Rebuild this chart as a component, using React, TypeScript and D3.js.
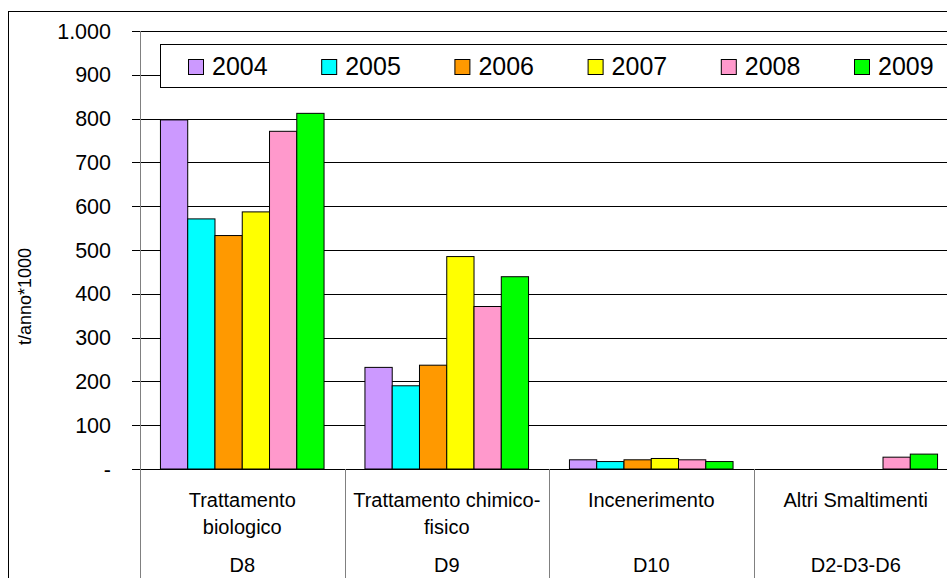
import React from "react";
import * as d3 from "d3";

const categories = ["D8", "D9", "D10", "D2-D3-D6"];
const categoryNames = [
  ["Trattamento", "biologico"],
  ["Trattamento chimico-", "fisico"],
  ["Incenerimento"],
  ["Altri Smaltimenti"],
];
const years = ["2004", "2005", "2006", "2007", "2008", "2009"];
const colors = ["#CC99FF", "#00FFFF", "#FF9900", "#FFFF00", "#FF99CC", "#00FF00"];
// values per year, in category order
const v2004 = [797, 232, 21, 0];
const v2005 = [571, 190, 17, 0];
const v2006 = [533, 237, 21, 0];
const v2007 = [587, 485, 24, 0];
const v2008 = [771, 371, 21, 27];
const v2009 = [812, 439, 17, 34];
const series = [v2004, v2005, v2006, v2007, v2008, v2009];
const yTicks = [0, 100, 200, 300, 400, 500, 600, 700, 800, 900, 1000];

const FONT = "'Liberation Sans', Arial, Helvetica, sans-serif";

function fmtTick(v: number) {
  if (v === 0) return "-";
  return d3.format(",")(v).replace(/,/g, ".");
}

export default function App() {
  const W = 947;
  const H = 578;
  const plotLeft = 140;
  const plotRight = 958;
  const plotTop = 31;
  const plotBottom = 469;

  const x = d3.scaleBand<string>().domain(categories).range([plotLeft, plotRight]).paddingInner(0).paddingOuter(0);
  const xs = d3
    .scaleBand<string>()
    .domain(years)
    .range([0, x.bandwidth()])
    .paddingInner(0)
    .paddingOuter(0.75);
  const y = d3.scaleLinear().domain([0, 1000]).range([plotBottom, plotTop]);

  const legendX0 = 188;
  const legendStep = 133.2;

  return (
    <svg
      width={W}
      height={H}
      style={{ position: "absolute", left: 0, top: 0, background: "#fff" }}
      fontFamily={FONT}
    >
      <rect x={0} y={0} width={W} height={H} fill="#fff" />
      {/* outer chart border */}
      <rect x={8.5} y={11.5} width={W + 20} height={H + 20} fill="none" stroke="#000" strokeWidth={1} />

      {/* gridlines */}
      {yTicks.map((t) => (
        <line
          key={"g" + t}
          x1={plotLeft}
          x2={plotRight}
          y1={Math.round(y(t)) + 0.5}
          y2={Math.round(y(t)) + 0.5}
          stroke="#000"
          strokeWidth={1}
        />
      ))}
      {/* y ticks and labels */}
      {yTicks.map((t) => (
        <g key={"t" + t}>
          <line x1={132} x2={plotLeft} y1={Math.round(y(t)) + 0.5} y2={Math.round(y(t)) + 0.5} stroke="#000" />
          <text
            x={111}
            y={y(t)}
            dy="0.35em"
            textAnchor="end"
            fontSize={21.5}
            fill="#000"
          >
            {fmtTick(t)}
          </text>
        </g>
      ))}
      {/* y axis line */}
      <line x1={plotLeft + 0.5} x2={plotLeft + 0.5} y1={plotTop} y2={H} stroke="#808080" strokeWidth={1} />

      {/* axis title */}
      <text
        transform={`translate(31,${296.5}) rotate(-90)`}
        textAnchor="middle"
        fontSize={18}
        fill="#000"
      >
        t/anno*1000
      </text>

      {/* bars */}
      {series.map((vals, si) =>
        vals.map((v, ci) =>
          v > 0 ? (
            <rect
              key={`b${si}-${ci}`}
              x={(x(categories[ci]) as number) + (xs(years[si]) as number)}
              y={y(v)}
              width={xs.bandwidth()}
              height={plotBottom - y(v)}
              fill={colors[si]}
              stroke="#000"
              strokeWidth={1}
            />
          ) : null
        )
      )}

      {/* category dividers below axis */}
      {categories.map((c) => (
        <line
          key={"d" + c}
          x1={Math.round(x(c) as number) + 0.5}
          x2={Math.round(x(c) as number) + 0.5}
          y1={plotBottom}
          y2={H}
          stroke="#808080"
        />
      ))}
      <line
        x1={Math.round(plotRight) + 0.5}
        x2={Math.round(plotRight) + 0.5}
        y1={plotBottom}
        y2={H}
        stroke="#808080"
      />

      {/* category labels */}
      {categories.map((c, ci) => {
        const cx = (x(c) as number) + x.bandwidth() / 2;
        return (
          <g key={"l" + c}>
            {categoryNames[ci].map((line, li) => (
              <text key={li} x={cx} y={507 + li * 26.5} textAnchor="middle" fontSize={20} fill="#000">
                {line}
              </text>
            ))}
            <text x={cx} y={572} textAnchor="middle" fontSize={20} fill="#000">
              {c}
            </text>
          </g>
        );
      })}

      {/* legend */}
      <rect x={160.5} y={44.5} width={820} height={43} fill="#fff" stroke="#000" strokeWidth={1} />
      {years.map((yr, i) => (
        <g key={"lg" + yr}>
          <rect
            x={legendX0 + i * legendStep + 0.5}
            y={59.5}
            width={15}
            height={15}
            fill={colors[i]}
            stroke="#000"
            strokeWidth={1}
          />
          <text x={legendX0 + i * legendStep + 24} y={75} fontSize={25} fill="#000">
            {yr}
          </text>
        </g>
      ))}
    </svg>
  );
}
